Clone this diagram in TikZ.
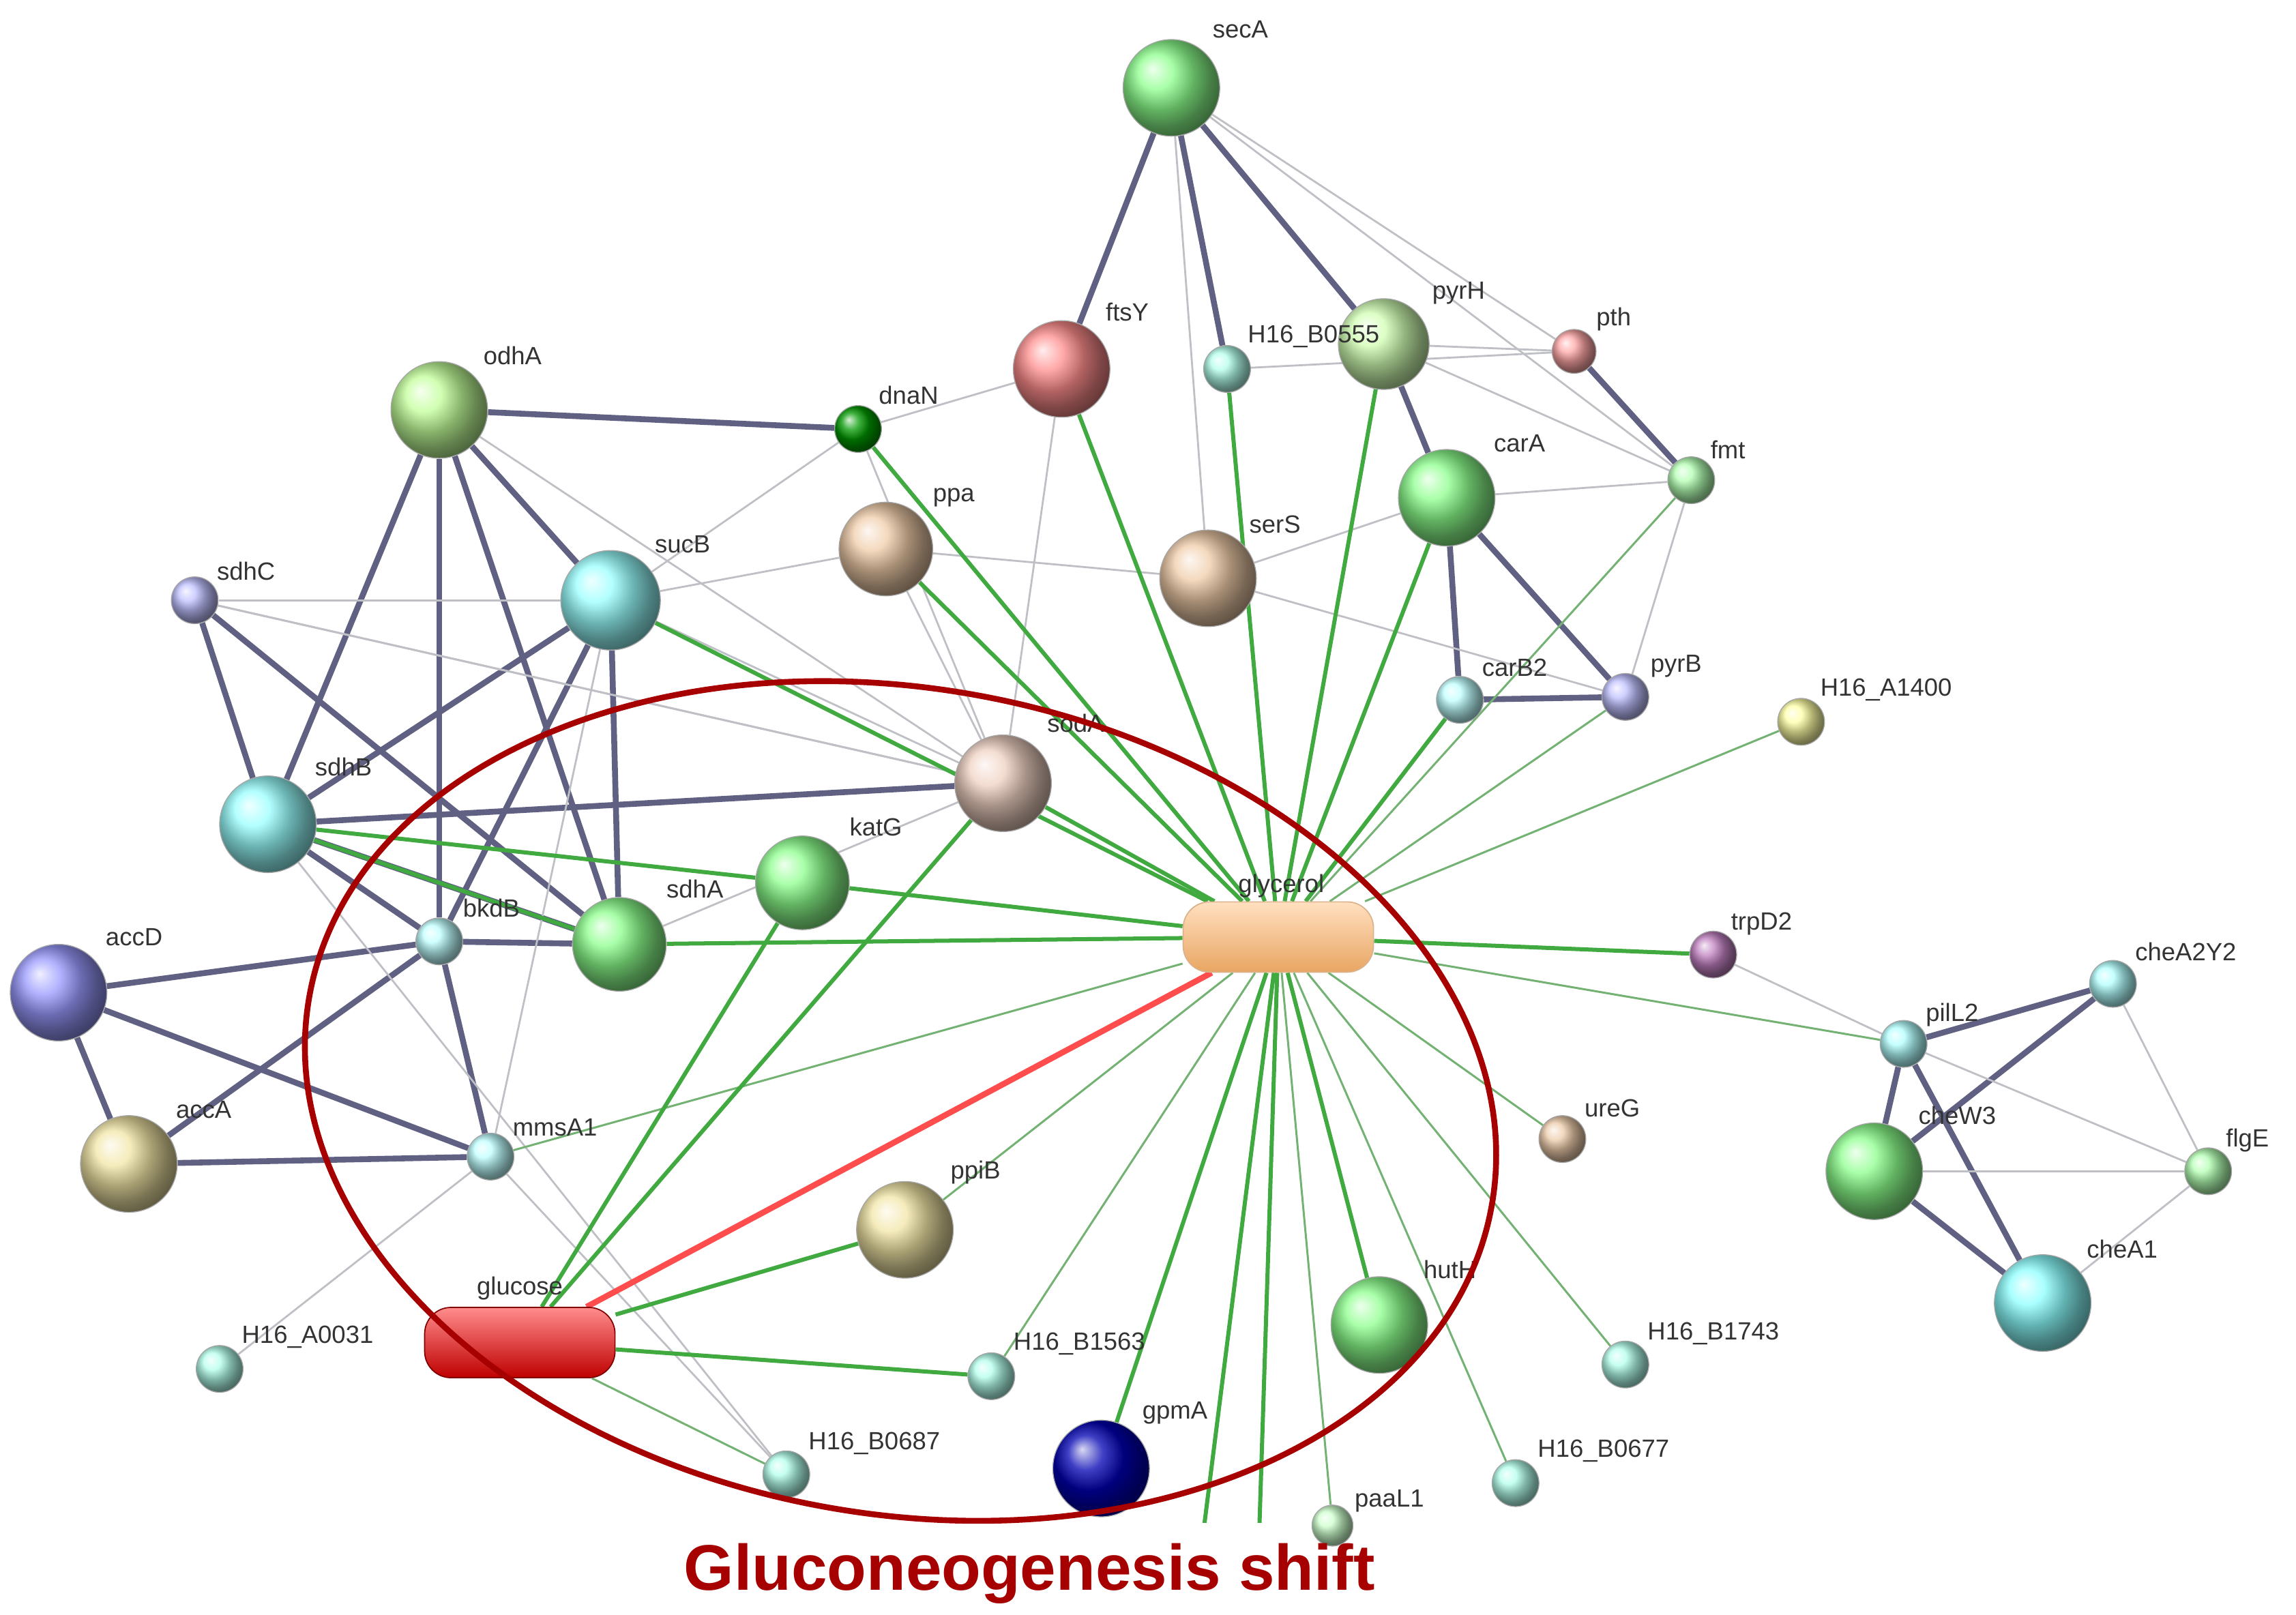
\documentclass[tikz,border=0pt]{standalone}
\usepackage{fontspec}
\setmainfont{Liberation Sans}
\usetikzlibrary{backgrounds}
\begin{document}
\begin{tikzpicture}[x=1pt,y=-1pt,
 ball/.style={circle,inner sep=0pt,minimum size=#1,draw=black!35,line width=0.6pt},
 lab/.style={anchor=west,font=\fontsize{17}{20}\selectfont,text=black!80,inner sep=0pt},
 tk/.style={line width=4pt,draw=black!45!blue!25!gray},
 tn/.style={line width=1.3pt,draw=blue!10!black!25},
 gr/.style={line width=2.8pt,draw=green!55!black!75},
 gt/.style={line width=1.4pt,draw=green!45!black!55},
 rd/.style={line width=4pt,draw=red!70!white}]
\useasboundingbox (0,0) rectangle (1568,1103);
\newcommand\bl[5]{\node[ball=#4,ball color=#5] (#1) at (#2,#3) {};}
\bl{secA}{800}{60}{66}{green!45}
\bl{ftsY}{725}{252}{66}{red!45}
\bl{Bfive}{838}{252}{32}{green!25!cyan!30}
\bl{pyrH}{945}{235}{62}{yellow!40!green!30}
\bl{pth}{1075}{240}{30}{red!35}
\bl{dnaN}{586}{293}{32}{green!60!black}
\bl{odhA}{300}{280}{66}{yellow!40!green!40}
\bl{carA}{988}{340}{66}{green!45}
\bl{fmt}{1155}{328}{32}{green!30}
\bl{ppa}{605}{375}{64}{orange!40!brown!40}
\bl{serS}{825}{395}{66}{orange!40!brown!40}
\bl{sucB}{417}{410}{68}{cyan!40}
\bl{sdhC}{133}{410}{32}{blue!25}
\bl{carBtwo}{997}{478}{32}{cyan!25}
\bl{pyrB}{1110}{476}{32}{blue!25}
\bl{Aone}{1230}{493}{32}{yellow!35}
\bl{sodA}{685}{535}{66}{red!20!brown!30}
\bl{sdhB}{183}{563}{66}{cyan!40}
\bl{katG}{548}{603}{64}{green!45}
\bl{bkdB}{300}{643}{32}{cyan!25}
\bl{sdhA}{423}{645}{64}{green!45}
\bl{accD}{40}{678}{66}{blue!40}
\bl{trpD}{1170}{652}{32}{violet!50}
\bl{cheAY}{1443}{672}{32}{cyan!30}
\bl{pilL}{1300}{713}{32}{cyan!30}
\bl{accA}{88}{795}{66}{yellow!50!brown!40}
\bl{mmsA}{335}{790}{32}{cyan!25}
\bl{ureG}{1067}{778}{32}{orange!30!brown!40}
\bl{cheW}{1280}{800}{66}{green!45}
\bl{flgE}{1508}{800}{32}{green!30}
\bl{ppiB}{618}{840}{66}{yellow!50!brown!40}
\bl{cheAone}{1395}{890}{66}{cyan!45}
\bl{hutH}{942}{905}{66}{green!45}
\bl{Athree}{150}{935}{32}{green!25!cyan!30}
\bl{Bseven}{1110}{932}{32}{green!25!cyan!30}
\bl{Bsix}{677}{940}{32}{green!25!cyan!30}
\bl{Beight}{537}{1007}{32}{green!25!cyan!30}
\bl{gpmA}{752}{1003}{66}{blue!70!black}
\bl{Bsev}{1035}{1013}{32}{green!25!cyan!30}
\bl{paaL}{910}{1042}{28}{green!20}
\node[rounded corners=18pt,minimum width=130,minimum height=48,draw=brown!60,line width=0.8pt,top color=orange!25,bottom color=orange!50!brown!70] (glycerol) at (873,640) {};
\node[rounded corners=18pt,minimum width=130,minimum height=48,draw=red!50!black,line width=0.8pt,top color=red!45,bottom color=red!75!black] (glucose) at (355,917) {};
\coordinate (o1) at (822,1045); \coordinate (o2) at (860,1045);
\begin{scope}[on background layer]
\clip (0,0) rectangle (1568,1040);
\foreach \a/\b in {secA/ftsY,secA/pyrH,odhA/sdhB,odhA/bkdB,odhA/sdhA,odhA/sucB,sdhC/sdhB,sdhC/sdhA,sucB/sdhB,sucB/sdhA,sucB/bkdB,sdhB/sdhA,sdhB/bkdB,bkdB/sdhA,accD/bkdB,accD/accA,accD/mmsA,accA/mmsA,accA/bkdB,bkdB/mmsA,carA/carBtwo,carA/pyrB,carBtwo/pyrB,pilL/cheAY,pilL/cheW,pilL/cheAone,cheW/cheAone,cheAY/cheW,odhA/dnaN,sdhB/sodA,pth/fmt,pyrH/carA,secA/Bfive}
 \draw[tk] (\a)--(\b);
\foreach \a/\b in {secA/serS,secA/pth,secA/fmt,pyrH/pth,pyrH/fmt,carA/fmt,fmt/pyrB,ftsY/sodA,dnaN/ftsY,dnaN/sucB,ppa/serS,ppa/sucB,ppa/sodA,serS/carA,serS/pyrB,sodA/sucB,sodA/sdhC,sdhC/sucB,sucB/mmsA,mmsA/Athree,mmsA/Beight,cheAY/flgE,pilL/flgE,cheW/flgE,cheAone/flgE,trpD/pilL,sdhA/sodA,odhA/sodA,sdhB/Beight,dnaN/sodA,Bfive/pth,sdhC/sodA}
 \draw[tn] (\a)--(\b);
\foreach \b in {ftsY,pyrH,dnaN,carA,sodA,katG,sdhA,sucB,trpD,hutH,gpmA,Bfive,carBtwo,o1,o2,ppa}
 \draw[gr] (glycerol)--(\b);
\foreach \b in {fmt,pyrB,Aone,pilL,ureG,Bseven,Bsev,paaL,Bsix,ppiB,mmsA}
 \draw[gt] (glycerol)--(\b);
\foreach \a/\b in {glucose/katG,glucose/ppiB,glucose/Bsix,sdhB/katG,sdhB/sdhA,glucose/sodA}
 \draw[gr] (\a)--(\b);
\draw[gt] (glucose)--(Beight);
\draw[rd] (glucose)--(glycerol);
\end{scope}
\foreach \t/\x/\y in {secA/828/20,ftsY/755/213,H16\_B0555/852/230,pyrH/978/200,pth/1090/218,dnaN/600/270,odhA/330/243,carA/1020/303,fmt/1168/307,ppa/637/340,serS/853/358,sucB/447/372,sdhC/148/390,carB2/1012/456,pyrB/1127/455,H16\_A1400/1243/471,sodA/715/494,sdhB/215/524,katG/580/565,bkdB/316/620,sdhA/455/607,accD/72/640,trpD2/1182/631,cheA2Y2/1458/650,pilL2/1315/693,accA/120/758,mmsA1/350/770,ureG/1082/757,cheW3/1310/762,flgE/1520/779,ppiB/649/801,cheA1/1425/853,hutH/972/867,H16\_A0031/165/913,H16\_B1743/1125/911,H16\_B1563/692/918,H16\_B0687/552/986,gpmA/780/965,H16\_B0677/1050/991,paaL1/925/1025}
 \node[lab] at (\x,\y) {\t};
\node[lab,anchor=center] at (875,605) {glycerol};
\node[lab,anchor=center] at (355,880) {glucose};
\draw[line width=4pt,draw=red!65!black,rotate around={-10:(615,752)}] (615,752) ellipse (410 and 282);
\node[font=\bfseries\fontsize{44}{50}\selectfont,text=red!65!black] at (703,1075) {Gluconeogenesis shift};
\end{tikzpicture}
\end{document}
